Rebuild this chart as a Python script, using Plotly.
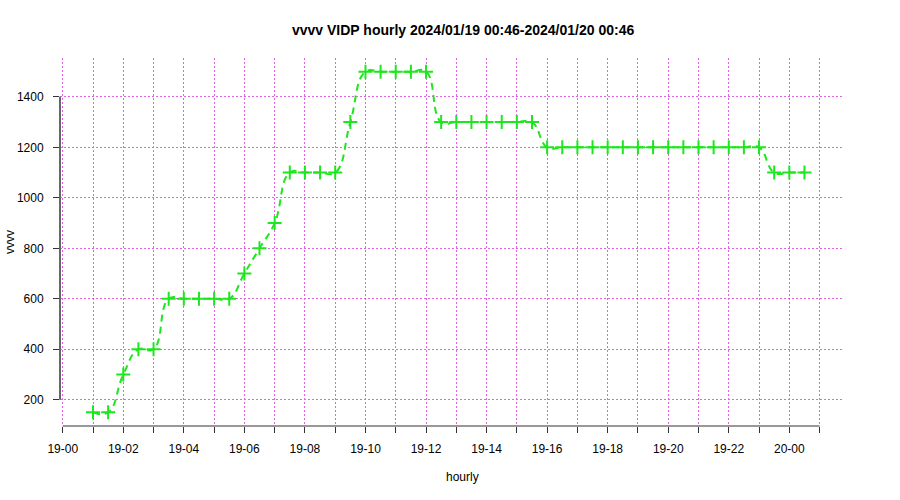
import plotly.graph_objects as go
import pandas as pd

# ---- data ----
start_time = "2024-01-19 01:00"
step_minutes = 30
values = [150, 150, 300, 400, 400, 600, 600, 600, 600, 600,
          700, 800, 900, 1100, 1100, 1100, 1100, 1300, 1500, 1500,
          1500, 1500, 1500, 1300, 1300, 1300, 1300, 1300, 1300, 1300,
          1200, 1200, 1200, 1200, 1200, 1200, 1200, 1200, 1200, 1200,
          1200, 1200, 1200, 1200, 1200, 1100, 1100, 1100]
times = pd.date_range(start_time, periods=len(values), freq=f"{step_minutes}min")

y_ticks = [200, 400, 600, 800, 1000, 1200, 1400]
x_axis_start = "2024-01-19 00:00"
x_axis_end = "2024-01-20 01:00"
x_range = ["2024-01-18 23:54:36", "2024-01-20 01:44:24"]
y_range = [96, 1554]

title = "vvvv VIDP hourly 2024/01/19 00:46-2024/01/20 00:46"
x_title = "hourly"
y_title = "vvvv"

green = "rgb(30,230,30)"
grid = "rgb(225,100,225)"
gdash = "2px,2px"
font = "Liberation Sans, Arial, sans-serif"

fig = go.Figure()
fig.add_trace(go.Scatter(
    x=times, y=values, mode="lines+markers",
    line=dict(color=green, width=2, dash="7px,5px", shape="spline", smoothing=1.3),
    marker=dict(symbol="cross-thin", size=10, line=dict(color=green, width=2), color=green),
    showlegend=False,
))

# axis lines spanning only the tick range (R-style)
fig.add_shape(type="line", xref="x", yref="paper",
              x0=x_axis_start, x1=x_axis_end, y0=0, y1=0,
              line=dict(color="#333", width=1.2))
fig.add_shape(type="line", xref="paper", yref="y",
              x0=0, x1=0, y0=y_ticks[0], y1=y_ticks[-1],
              line=dict(color="#666", width=2))

fig.update_layout(
    width=900, height=500,
    margin=dict(l=60, r=58, t=58, b=74),
    paper_bgcolor="white", plot_bgcolor="white",
    font=dict(family=font, size=12, color="black"),
    annotations=[
        dict(text=f"<b>{title}</b>", xref="paper", yref="paper",
             x=0.5153, y=1, yshift=28, xanchor="center", yanchor="middle",
             showarrow=False, font=dict(size=14, family=font)),
        dict(text=x_title, xref="paper", yref="paper",
             x=0.5153, y=0, yshift=-51, xanchor="center", yanchor="middle",
             showarrow=False, font=dict(size=12, family=font)),
        dict(text=y_title, xref="paper", yref="paper",
             x=0, xshift=-50, y=0.5, xanchor="center", yanchor="middle",
             textangle=-90, showarrow=False, font=dict(size=12, family=font)),
    ],
)

fig.update_xaxes(
    type="date", range=x_range,
    tickformat="%d-%H", dtick=2 * 3600 * 1000, tick0="2024-01-19 00:00",
    ticks="outside", ticklen=6, tickcolor="#333", tickwidth=1,
    showline=False, zeroline=False,
    showgrid=True, gridcolor=grid, griddash=gdash, gridwidth=1,
    minor=dict(dtick=3600 * 1000, tick0="2024-01-19 00:00", ticks="outside",
               ticklen=6, tickcolor="#333", showgrid=True,
               gridcolor=grid, griddash=gdash, gridwidth=1),
    ticklabelstandoff=6,
    tickfont=dict(size=12, family=font),
)
fig.update_yaxes(
    range=y_range, tickvals=y_ticks,
    ticks="outside", ticklen=6, tickcolor="#333",
    showline=False, zeroline=False,
    showgrid=True, gridcolor=grid, griddash=gdash, gridwidth=1,
    ticklabelstandoff=7,
    tickfont=dict(size=12, family=font),
)

fig.write_html("out.html")
